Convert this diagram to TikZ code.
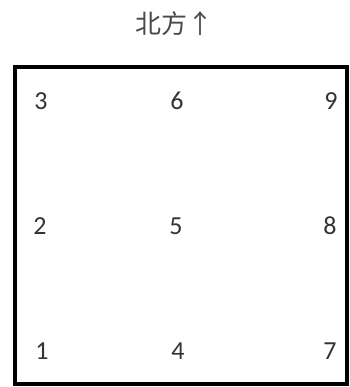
\documentclass[tikz,border=0pt]{standalone}
\usepackage{fontspec}
\setmainfont{Carlito}
\newfontfamily\cjk{Noto Sans CJK SC}
\usetikzlibrary{positioning}
\definecolor{ink}{HTML}{333333}
\definecolor{grayink}{HTML}{4A4A4A}

\begin{document}
\begin{tikzpicture}[x=1pt,y=-1pt,
    digit/.style={text=ink,font=\fontsize{26}{26}\selectfont,inner sep=0pt}]
  \useasboundingbox (0,0) rectangle (349,387);
  % title
  \node[text=grayink,font=\cjk\fontsize{26}{26}\selectfont,inner sep=0pt] (north) at (174,24) {北方↑};
  % outer frame
  \draw[line width=3.5pt] (15,67) rectangle (347,384);
  % grid numbers
  \node[digit] (n3) at (41,101) {3};
  \node[digit] (n6) at (177,101) {6};
  \node[digit] (n9) at (331,101) {9};
  \node[digit] (n2) at (40,226) {2};
  \node[digit] (n5) at (176,226) {5};
  \node[digit] (n8) at (330,226) {8};
  \node[digit] (n1) at (42,351) {1};
  \node[digit] (n4) at (178,351) {4};
  \node[digit] (n7) at (330,351) {7};
\end{tikzpicture}
\end{document}
